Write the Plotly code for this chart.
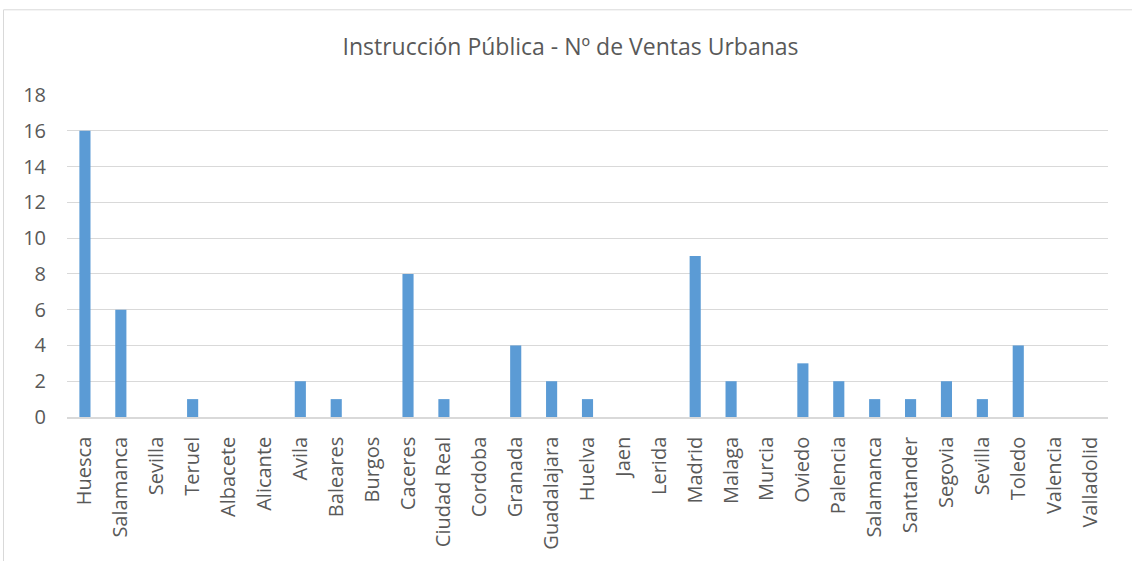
import plotly.graph_objects as go

categories = ["Huesca", "Salamanca", "Sevilla", "Teruel", "Albacete", "Alicante", "Avila",
              "Baleares", "Burgos", "Caceres", "Ciudad Real", "Cordoba", "Granada",
              "Guadalajara", "Huelva", "Jaen", "Lerida", "Madrid", "Malaga", "Murcia",
              "Oviedo", "Palencia", "Salamanca", "Santander", "Segovia", "Sevilla",
              "Toledo", "Valencia", "Valladolid"]
ventas = [16, 6, 0, 1, 0, 0, 2, 1, 0, 8, 1, 0, 4, 2, 1, 0, 0, 9, 2, 0, 3, 2, 1, 1, 2, 1, 4, 0, 0]
y_ticks = [0, 2, 4, 6, 8, 10, 12, 14, 16, 18]
title_text = "Instrucción Pública - Nº de Ventas Urbanas"

positions = list(range(len(categories)))
FONT = "Open Sans"
TXT = "#595959"
GRID = "#d9d9d9"

fig = go.Figure(go.Bar(
    x=positions, y=ventas,
    marker=dict(color="#5b9bd5", line=dict(color="#5b9bd5", width=0)),
    width=0.31,
))

W, H = 1132, 561
L, R, T, B = 67, 24, 94.7, 144.3
pw, ph = W - L - R, H - T - B

fig.update_layout(
    width=W, height=H,
    margin=dict(l=L, r=R, t=T, b=B),
    paper_bgcolor="white", plot_bgcolor="white",
    showlegend=False,
    font=dict(family=FONT, color=TXT, size=20),
    title=dict(text=title_text, x=570.5 / W, xanchor="center",
               y=1 - 47 / H, yanchor="middle",
               font=dict(family=FONT, size=23, color=TXT)),
    xaxis=dict(
        tickmode="array", tickvals=positions, ticktext=categories,
        range=[-0.5, len(categories) - 0.5],
        tickangle=-90, showgrid=False, zeroline=False,
        showline=True, linecolor=GRID, linewidth=1.5,
        ticks="", ticklabelstandoff=10,
        tickfont=dict(family=FONT, size=20, color=TXT),
    ),
    yaxis=dict(
        range=[0, 18], tickmode="array", tickvals=y_ticks,
        showgrid=True, gridcolor=GRID, gridwidth=1,
        zeroline=False, showline=False, ticks="",
        ticklabelstandoff=20,
        tickfont=dict(family=FONT, size=20, color=TXT),
    ),
    shapes=[dict(type="rect", xref="paper", yref="paper",
                 x0=(3.5 - L) / pw, x1=(W + 20 - L) / pw,
                 y0=-(H + 20 - (T + ph)) / ph, y1=(T + ph - 9.5) / ph,
                 line=dict(color=GRID, width=1), fillcolor="rgba(0,0,0,0)",
                 layer="below")],
)

fig.write_html("out.html",
               config={"displayModeBar": False},
               post_script="document.body.style.margin='0';document.body.style.overflow='hidden';")
